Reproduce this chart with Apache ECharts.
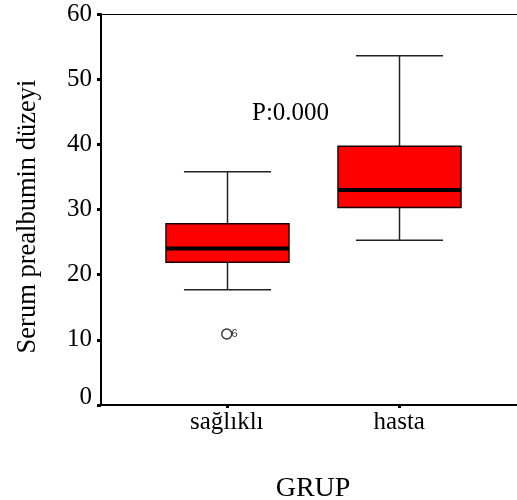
<!DOCTYPE html>
<html>
<head>
<meta charset="utf-8">
<script src="https://cdn.jsdelivr.net/npm/echarts@6/dist/echarts.min.js"></script>
<style>
  html, body { margin: 0; padding: 0; background: #fff; }
  #chart { width: 517px; height: 500px; }
</style>
</head>
<body>
<div id="chart"></div>
<script>
// Group names on the category axis
const categories = ['sağlıklı', 'hasta'];
// Box statistics per group: [min whisker, Q1, median, Q3, max whisker]
const saglikliStats = [17.7, 21.9, 24.0, 27.8, 35.8];
const hastaStats = [25.3, 30.3, 33.0, 39.7, 53.6];
// Outlying cases: [group index, value, case label]
const outlierGroup = [0];
const outlierValue = [10.9];
const outlierCase = ['6'];
// Value axis range and step
const yMin = 0, yMax = 60, yStep = 10;
const pText = 'P:0.000';

const serif = "'Liberation Serif', 'Times New Roman', serif";

const boxData = [saglikliStats, hastaStats].map((s, i) => [i].concat(s));
const outlierData = outlierGroup.map((g, i) => [g, outlierValue[i], outlierCase[i]]);

function renderBox(params, api) {
  const i = api.value(0);
  const lo = api.coord([i, api.value(1)]);
  const q1 = api.coord([i, api.value(2)]);
  const md = api.coord([i, api.value(3)]);
  const q3 = api.coord([i, api.value(4)]);
  const hi = api.coord([i, api.value(5)]);
  const band = api.size([1, 0])[0];
  const bw = band * 0.713;
  const cw = band * 0.505;
  const cx = Math.round(lo[0]) + 0.5;
  const wStyle = { stroke: '#222', lineWidth: 1.5 };
  return {
    type: 'group',
    children: [
      { type: 'line', shape: { x1: cx, y1: hi[1], x2: cx, y2: q3[1] }, style: wStyle },
      { type: 'line', shape: { x1: cx, y1: q1[1], x2: cx, y2: lo[1] }, style: wStyle },
      { type: 'line', shape: { x1: cx - cw / 2, y1: hi[1], x2: cx + cw / 2, y2: hi[1] }, style: wStyle },
      { type: 'line', shape: { x1: cx - cw / 2, y1: lo[1], x2: cx + cw / 2, y2: lo[1] }, style: wStyle },
      { type: 'rect', shape: { x: cx - bw / 2, y: q3[1], width: bw, height: q1[1] - q3[1] },
        style: { fill: '#ff0000', stroke: '#1a0000', lineWidth: 1.5 } },
      { type: 'line', shape: { x1: cx - bw / 2, y1: md[1], x2: cx + bw / 2, y2: md[1] },
        style: { stroke: '#000', lineWidth: 4 } }
    ]
  };
}

const chart = echarts.init(document.getElementById('chart'), null, { renderer: 'canvas' });
chart.setOption({
  backgroundColor: '#fff',
  animation: false,
  grid: [
    { left: 101, right: 0, top: 14, bottom: 95, outerBoundsMode: 'none', containLabel: false },
    { left: 140.5, width: 345, top: 14, bottom: 95, outerBoundsMode: 'none', containLabel: false }
  ],
  xAxis: [
    { gridIndex: 0, type: 'value', min: 0, max: 1, position: 'bottom',
      axisLine: { show: true, lineStyle: { color: '#000', width: 2 } },
      axisTick: { show: false }, axisLabel: { show: false }, splitLine: { show: false } },
    { gridIndex: 0, type: 'value', min: 0, max: 1, position: 'top',
      axisLine: { show: true, lineStyle: { color: '#000', width: 1 } },
      axisTick: { show: false }, axisLabel: { show: false }, splitLine: { show: false } },
    { gridIndex: 1, type: 'category', data: categories, position: 'bottom',
      axisLine: { show: false },
      axisTick: { show: true, alignWithLabel: true, length: 3, lineStyle: { color: '#000', width: 3 } },
      axisLabel: { color: '#000', fontFamily: serif, fontSize: 25, margin: 5 },
      name: 'GRUP', nameLocation: 'middle', nameGap: 70,
      nameTextStyle: { color: '#000', fontFamily: serif, fontSize: 28 } }
  ],
  yAxis: [
    { gridIndex: 0, type: 'value', min: yMin, max: yMax, interval: yStep,
      axisLine: { show: true, lineStyle: { color: '#000', width: 2 } },
      axisTick: { show: true, length: 4, lineStyle: { color: '#000', width: 3 } },
      axisLabel: {
        color: '#000', fontFamily: serif, fontSize: 25, margin: 9,
        // the zero label sits a little above its tick
        formatter: v => (v === yMin ? '{z|' + v + '}' : String(v)),
        rich: { z: { fontFamily: serif, fontSize: 25, color: '#000', padding: [0, 0, 16, 0] } }
      },
      splitLine: { show: false },
      name: 'Serum prealbumin düzeyi', nameLocation: 'middle', nameGap: 59,
      nameTextStyle: { color: '#000', fontFamily: serif, fontSize: 26.5, padding: [0, 14, 0, 0] } },
    { gridIndex: 1, type: 'value', min: yMin, max: yMax, show: false }
  ],
  series: [
    { type: 'custom', xAxisIndex: 2, yAxisIndex: 1, renderItem: renderBox,
      encode: { x: 0, y: [1, 2, 3, 4, 5] }, data: boxData, z: 3 },
    { type: 'scatter', xAxisIndex: 2, yAxisIndex: 1, data: outlierData,
      symbol: 'circle', symbolSize: 10,
      itemStyle: { color: '#fff', borderColor: '#000', borderWidth: 1.4 },
      label: { show: true, position: 'right', distance: -1,
        formatter: p => p.data[2], color: '#000', fontSize: 11,
        fontFamily: "'Liberation Sans', Arial, sans-serif" }, z: 4 }
  ],
  graphic: [
    { type: 'text', left: 252, top: 101,
      style: { text: pText, fill: '#000', font: '25px ' + serif } }
  ]
});
</script>
</body>
</html>
